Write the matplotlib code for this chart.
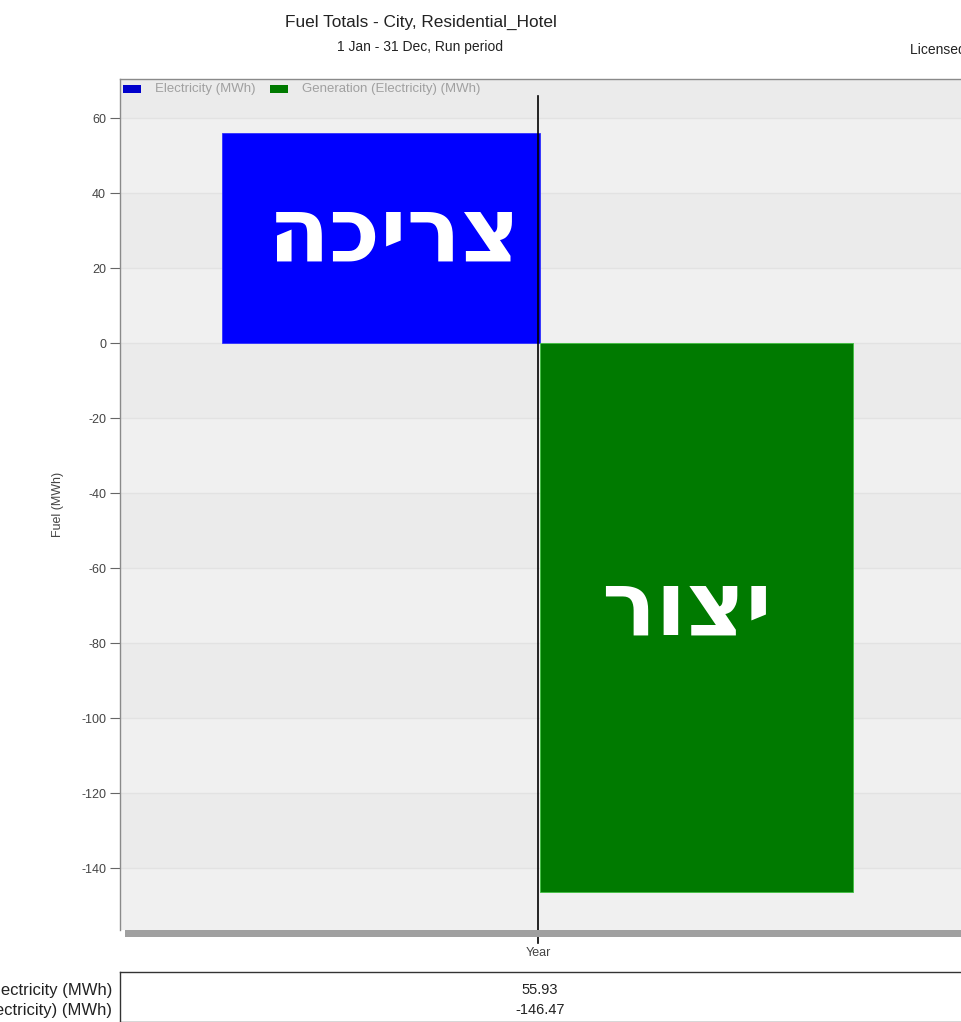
import matplotlib
matplotlib.use("Agg")
import matplotlib.pyplot as plt
from matplotlib.patches import Rectangle

# data
category = ["Year"]
series_names = ["Electricity (MWh)", "Generation (Electricity) (MWh)"]
electricity = [55.93]
generation = [-146.47]
yticks = [60, 40, 20, 0, -20, -40, -60, -80, -100, -120, -140]
# Hebrew labels in visual (left-to-right) order, since matplotlib has no bidi
label_use = "הכירצ"     # צריכה
label_gen = "רוצי"      # יצור

plt.rcParams["font.family"] = ["Liberation Sans", "DejaVu Sans"]

W, H = 961, 1022
fig = plt.figure(figsize=(W / 100, H / 100), dpi=100)
fig.patch.set_facecolor("white")

# plot area (extends past right edge like the screenshot)
x0, x1, ytop, ybot = 120, 975, 79, 930
ax = fig.add_axes([x0 / W, 1 - ybot / H, (x1 - x0) / W, (ybot - ytop) / H])
ax.set_facecolor("#efefef")

ymin, ymax = -156.5, 70.4
ax.set_ylim(ymin, ymax)
ax.set_xlim(-1.321, 1.367)

# alternating bands between grid lines
edges = [ymax] + yticks + [ymin]
for i in range(len(edges) - 1):
    c = "#ebebeb" if i % 2 == 0 else "#f0f0f0"
    ax.axhspan(edges[i + 1], edges[i], color=c, lw=0, zorder=0)
for t in yticks:
    ax.axhline(t, color="#e2e2e2", lw=1, zorder=0.5)

ax.bar([-1], electricity, width=1.0, align="edge", color="#0000ff",
       edgecolor="#3030ff", lw=0.6, zorder=2)
ax.bar([0], generation, width=0.985, align="edge", color="#007a00",
       edgecolor="#40c040", lw=0.6, zorder=2)

heb = ["Open Sans", "DejaVu Sans"]
ax.text(-0.46, 28, label_use, color="white", fontsize=65, fontweight="bold",
        family=heb, ha="center", va="center", zorder=3)
ax.text(0.46, -71.5, label_gen, color="white", fontsize=65, fontweight="bold",
        family=heb, ha="center", va="center", zorder=3)

# category line through the middle
ax.plot([-0.006, -0.006], [-0.015, 0.98], color="black", lw=1.2,
        transform=ax.get_xaxis_transform(), clip_on=False, zorder=4)

ax.set_yticks(yticks)
ax.set_yticklabels([str(t) for t in yticks])
ax.tick_params(axis="y", length=7, width=0.8, color="#666666",
               labelcolor="#444444", labelsize=9, pad=3)
ax.set_xticks([-0.006])
ax.set_xticklabels(category)
ax.tick_params(axis="x", length=0, labelcolor="#444444", labelsize=9, pad=12)
for s in ["top", "right", "left", "bottom"]:
    ax.spines[s].set_color("#8a8a8a")
    ax.spines[s].set_linewidth(1.0)
ax.spines["bottom"].set_visible(False)
ax.set_ylabel("Fuel (MWh)", fontsize=9, color="#444444", labelpad=12)

# drop shadow under the plot
fig.add_artist(Rectangle((125 / W, 1 - 937 / H), (x1 - 125) / W, 7 / H,
                         transform=fig.transFigure, color="#a0a0a0", lw=0))

# legend strip inside the plot
fig.add_artist(Rectangle((123 / W, 1 - 93 / H), 18 / W, 8 / H,
                         transform=fig.transFigure, color="#0000cc", lw=0))
fig.text(155 / W, 1 - 89 / H, series_names[0], fontsize=9.5, color="#a0a0a0",
         va="center")
fig.add_artist(Rectangle((270 / W, 1 - 93 / H), 18 / W, 8 / H,
                         transform=fig.transFigure, color="#007a00", lw=0))
fig.text(302 / W, 1 - 89 / H, series_names[1], fontsize=9.5, color="#a0a0a0",
         va="center")

# titles
fig.text(421 / W, 1 - 22 / H, "Fuel Totals - City, Residential_Hotel",
         fontsize=12.4, color="#222222", ha="center", va="center")
fig.text(420 / W, 1 - 47 / H, "1 Jan - 31 Dec, Run period",
         fontsize=10, color="#222222", ha="center", va="center")
fig.text(910 / W, 1 - 50 / H, "Licensed to", fontsize=10, color="#222222",
         ha="left", va="center")

# summary table below
tab = fig.add_axes([x0 / W, 0, (x1 - x0) / W, (1022 - 972) / H])
tab.set_xticks([])
tab.set_yticks([])
tab.set_xlim(x0, x1)
tab.set_ylim(1022, 972)
tab.set_facecolor("white")
for s in tab.spines.values():
    s.set_color("#333333")
    s.set_linewidth(1.0)
values = electricity + generation
for i, (name, v) in enumerate(zip(series_names, values)):
    yy = 990 + 20 * i
    tab.text(540, yy, f"{v:.2f}", fontsize=10.5, color="#222222",
             ha="center", va="center")
    fig.text(112 / W, 1 - yy / H, name, fontsize=12, color="#222222",
             ha="right", va="center")

fig.savefig("out.png", dpi=100)
